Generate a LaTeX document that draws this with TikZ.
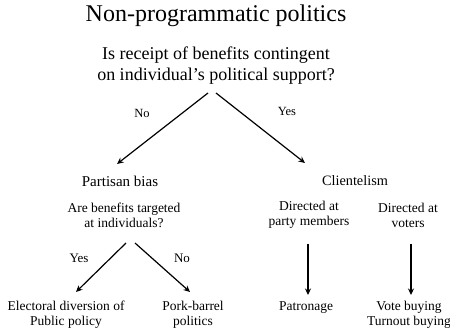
\documentclass[tikz,border=0pt]{standalone}
\usepackage{fontspec}
\setmainfont{Liberation Serif}
\usetikzlibrary{arrows.meta}
\begin{document}
\begin{tikzpicture}[x=1pt,y=-1pt,
  txt/.style={inner sep=0pt,align=center,font=\fontsize{13.5}{15}\selectfont},
  lbl/.style={inner sep=0pt,font=\fontsize{12.5}{14}\selectfont},
  arr/.style={-{Stealth[length=6.5pt,width=6pt]},line width=1.2pt}]
\useasboundingbox (0,0) rectangle (450,331);
\node[inner sep=0pt,font=\fontsize{24}{28}\selectfont] (title) at (216,16) {Non-programmatic politics};
\node[inner sep=0pt,align=center,font=\fontsize{18}{21}\selectfont] (q) at (216,66) {Is receipt of benefits contingent\\on individual’s political support?};
\coordinate (qa) at (208,93);
\coordinate (qb) at (216,93);
\node[inner sep=0pt,font=\fontsize{15}{17}\selectfont] (pb) at (120,181) {Partisan bias};
\node[inner sep=0pt,font=\fontsize{14.3}{17}\selectfont] (cl) at (355,181) {Clientelism};
\draw[arr] (qa) -- (117,164) coordinate (pa);
\draw[arr] (qb) -- (305,163) coordinate (ca);
\node[lbl] (no1) at (142,113) {No};
\node[lbl] (yes1) at (287,111) {Yes};
\node[txt] (q2) at (124,215) {Are benefits targeted\\at individuals?};
\node[txt] (d1) at (309,215) {Directed at\\party members};
\node[txt] (d2) at (408,215) {Directed at\\voters};
\coordinate (q2a) at (126,243);
\coordinate (q2b) at (135,243);
\node[txt] (e) at (66,315) {Electoral diversion of\\Public policy};
\node[txt] (pk) at (193,315) {Pork-barrel\\politics};
\node[txt] (pt) at (306,308) {Patronage};
\node[txt] (vb) at (409,315) {Vote buying\\Turnout buying};
\draw[arr] (q2a) -- (76,292);
\draw[arr] (q2b) -- (190,292);
\node[lbl,font=\fontsize{13}{15}\selectfont] (yes2) at (79,258) {Yes};
\node[lbl,font=\fontsize{13}{15}\selectfont] (no2) at (182,258) {No};
\coordinate (d1s) at (308,244);
\coordinate (d2s) at (411,244);
\draw[arr] (d1s) -- (308,295);
\draw[arr] (d2s) -- (411,295);
\end{tikzpicture}
\end{document}
